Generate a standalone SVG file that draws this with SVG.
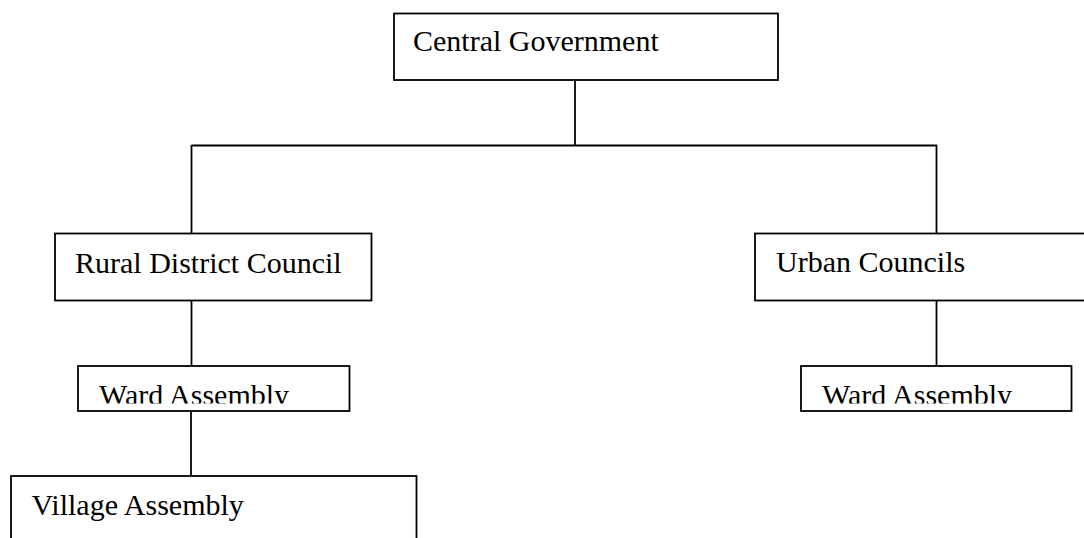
<svg xmlns="http://www.w3.org/2000/svg" width="1084" height="538" viewBox="0 0 1084 538">
<style>
.box{fill:#fff;stroke:#000;stroke-width:1.8}
.lbl{font-family:"Liberation Serif","Times New Roman",serif;font-size:30px;fill:#000}
.conn{stroke:#000;stroke-width:1.8;fill:none}
</style>
<defs>
<clipPath id="clipW1"><rect x="78" y="366" width="272" height="37.5"/></clipPath>
<clipPath id="clipW2"><rect x="801" y="366" width="271" height="37.5"/></clipPath>
</defs>
<rect width="1084" height="538" fill="#fff"/>
<g id="connectors">
<line class="conn" x1="575" y1="80" x2="575" y2="146"/>
<line class="conn" x1="191.5" y1="145.5" x2="937" y2="145.5"/>
<line class="conn" x1="191.5" y1="145" x2="191.5" y2="233"/>
<line class="conn" x1="936.5" y1="145" x2="936.5" y2="233"/>
<line class="conn" x1="191.5" y1="300" x2="191.5" y2="366"/>
<line class="conn" x1="936.5" y1="300" x2="936.5" y2="366"/>
<line class="conn" x1="191" y1="411" x2="191" y2="476"/>
</g>
<g id="central">
<rect class="box" x="394" y="13.5" width="384" height="66.5"/>
<text class="lbl" x="413" y="51">Central Government</text>
</g>
<g id="rural">
<rect class="box" x="55" y="233.5" width="316.5" height="67"/>
<text class="lbl" x="75" y="273">Rural District Council</text>
</g>
<g id="urban">
<rect class="box" x="755" y="233.5" width="340" height="67"/>
<text class="lbl" x="776" y="272">Urban Councils</text>
</g>
<g id="ward-rural">
<rect class="box" x="78" y="366" width="271.5" height="45"/>
<text class="lbl" x="99" y="405" clip-path="url(#clipW1)">Ward Assembly</text>
</g>
<g id="ward-urban">
<rect class="box" x="801" y="366" width="270.5" height="45"/>
<text class="lbl" x="822" y="405" clip-path="url(#clipW2)">Ward Assembly</text>
</g>
<g id="village">
<rect class="box" x="11" y="476" width="405.5" height="80"/>
<text class="lbl" x="31.5" y="515">Village Assembly</text>
</g>
</svg>
